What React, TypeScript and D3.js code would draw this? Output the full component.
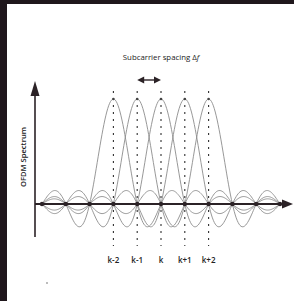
import * as d3 from "d3";
import React from "react";

// subcarrier offsets relative to k, and their labels
const offsets = [-2, -1, 0, 1, 2];
const labels = ["k-2", "k-1", "k", "k+1", "k+2"];
// frequency extent drawn (in subcarrier spacings around k)
const freqDomain: [number, number] = [-5, 5];
const crossings = d3.range(-5, 6);

const W = 294;
const H = 301;

const sinc = (t: number) => (t === 0 ? 1 : Math.sin(Math.PI * t) / (Math.PI * t));

export default function App() {
  const x = d3.scaleLinear().domain(freqDomain).range([42, 280]);
  const y = d3.scaleLinear().domain([0, 1]).range([204, 99]);
  const axisX0 = 35;
  const ink = "#2b2226";

  const samples = d3.range(freqDomain[0], freqDomain[1] + 0.001, 0.04);
  const line = d3
    .line<number>()
    .x((t) => x(t))
    .curve(d3.curveLinear);

  const font = "'Open Sans', 'DejaVu Sans', sans-serif";

  return (
    <div style={{ position: "fixed", left: 0, top: 0, width: W, height: H, background: "#fff" }}>
      <svg width={W} height={H} style={{ display: "block" }}>
        {/* scan frame */}
        <rect x={0} y={0} width={W} height={4} fill="#1f171c" />
        <rect x={0} y={0} width={7} height={H} fill="#1f171c" />

        {/* sinc curves */}
        {offsets.map((o) => (
          <path
            key={o}
            d={line.y((t) => y(sinc(t - o)))(samples) ?? ""}
            fill="none"
            stroke="#8c8c8c"
            strokeWidth={0.9}
          />
        ))}

        {/* dotted center lines */}
        {offsets.map((o) => (
          <line
            key={"d" + o}
            x1={x(o)}
            x2={x(o)}
            y1={91}
            y2={246}
            stroke="#2f2f2f"
            strokeWidth={1.1}
            strokeDasharray="2,5"
          />
        ))}
        {offsets.map((o) => (
          <circle key={"p" + o} cx={x(o)} cy={y(1)} r={1.3} fill="#444" />
        ))}

        {/* y axis */}
        <line x1={axisX0} x2={axisX0} y1={92} y2={237} stroke={ink} strokeWidth={1.6} />
        <path d={`M${axisX0},81 L${axisX0 - 4.5},96 L${axisX0 + 4.5},96 Z`} fill={ink} />

        {/* x axis */}
        <line x1={axisX0} x2={284} y1={y(0)} y2={y(0)} stroke={ink} strokeWidth={1.8} />
        <path d={`M293,${y(0)} L282,${y(0) - 4.5} L282,${y(0) + 4.5} Z`} fill={ink} />

        {crossings.map((c) => (
          <circle key={"c" + c} cx={x(c)} cy={y(0)} r={2.2} fill={ink} />
        ))}

        {/* spacing arrow */}
        <line x1={x(-1) + 4} x2={x(0) - 4} y1={80} y2={80} stroke={ink} strokeWidth={1.4} />
        <path d={`M${x(-1)},80 L${x(-1) + 7},76.5 L${x(-1) + 7},83.5 Z`} fill={ink} />
        <path d={`M${x(0)},80 L${x(0) - 7},76.5 L${x(0) - 7},83.5 Z`} fill={ink} />

        <text x={161} y={60} textAnchor="middle" fontFamily={font} fontSize={7.8} fill="#222">
          Subcarrier spacing Δ<tspan fontStyle="italic">f</tspan>
        </text>

        {labels.map((l, i) => (
          <text
            key={l}
            x={x(offsets[i])}
            y={263}
            textAnchor="middle"
            fontFamily={font}
            fontSize={8}
            fontWeight={600}
            fill="#222"
          >
            {l}
          </text>
        ))}

        <text
          transform="translate(26,157) rotate(-90)"
          textAnchor="middle"
          fontFamily={font}
          fontSize={7.6}
          fontWeight={600}
          fill="#222"
        >
          OFDM Spectrum
        </text>

        <circle cx={47} cy={283} r={0.8} fill="#666" />
      </svg>
    </div>
  );
}
